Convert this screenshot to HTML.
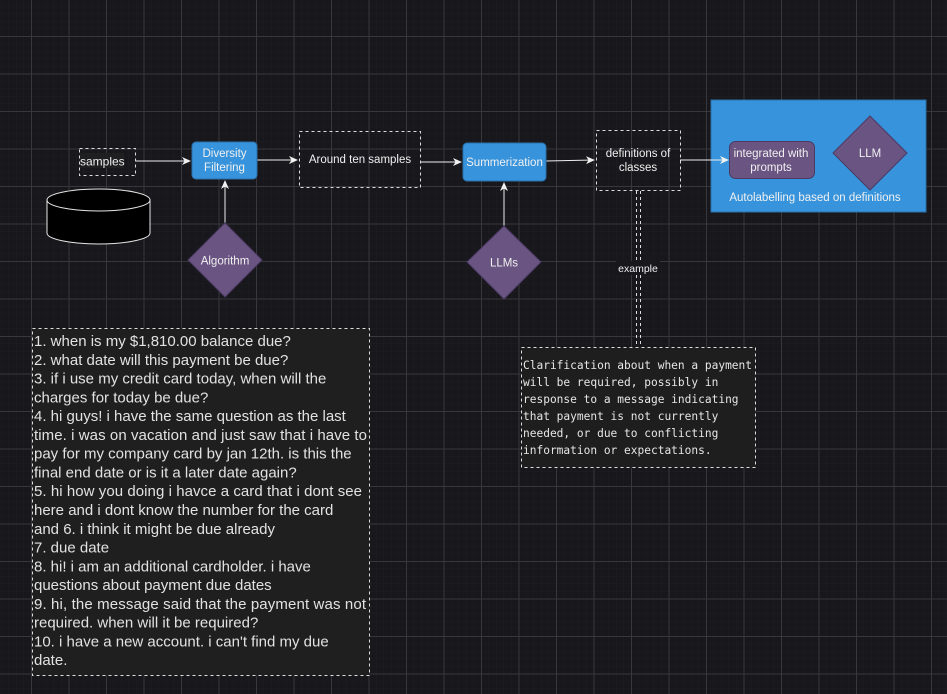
<!DOCTYPE html>
<html><head><meta charset="utf-8"><style>
html,body{margin:0;padding:0;background:#18171c;}
svg{display:block}
.s{font-family:"Liberation Sans",sans-serif;fill:#f0f0f0;}
.m{font-family:"DejaVu Sans Mono","Liberation Mono",monospace;fill:#e6e6e6;font-size:11.2px;}
.t{font-family:"Liberation Sans",sans-serif;fill:#e2e2e2;font-size:15px;}
</style></head><body>
<svg width="947" height="694" xmlns="http://www.w3.org/2000/svg">
<defs>
<pattern id="minor" x="1" y="6" width="7.5" height="7.5" patternUnits="userSpaceOnUse">
<path d="M0 0H7.5M0 0V7.5" stroke="#1e1d23" stroke-width="1" fill="none"/></pattern>
<pattern id="major" x="31" y="36" width="37.5" height="37.5" patternUnits="userSpaceOnUse">
<path d="M0 0.5H37.5M0.5 0V37.5" stroke="#38373d" stroke-width="1" fill="none"/></pattern>
<marker id="a" markerWidth="10" markerHeight="10" refX="8" refY="5" orient="auto" markerUnits="userSpaceOnUse">
<path d="M0 1L9 5L0 9L2.5 5Z" fill="#f0f0f0"/></marker>
</defs>
<rect width="947" height="694" fill="#18171c"/>
<rect width="947" height="694" fill="url(#minor)"/>
<rect width="947" height="694" fill="url(#major)"/>

<rect x="711" y="100" width="215" height="112" fill="#3794dc" stroke="#2b6fa8"/>

<rect x="79.5" y="148.5" width="56" height="27" fill="none" stroke="#ddd" stroke-dasharray="3 3"/>
<rect x="80" y="153" width="44" height="15" fill="#1f1f22"/>
<text x="80" y="165.5" class="s" font-size="12">samples</text>
<path d="M47 200V233A51.5 11 0 0 0 150 233V200" fill="#000" stroke="#e6e6e6"/>
<ellipse cx="98.5" cy="200" rx="51.5" ry="11" fill="#000" stroke="#e6e6e6"/>

<line x1="136" y1="161" x2="190" y2="161" stroke="#eee" marker-end="url(#a)"/>
<line x1="257" y1="160" x2="297" y2="160" stroke="#eee" marker-end="url(#a)"/>
<line x1="421" y1="162" x2="461" y2="162" stroke="#eee" marker-end="url(#a)"/>
<line x1="546" y1="161" x2="594" y2="160" stroke="#eee" marker-end="url(#a)"/>
<line x1="680" y1="160" x2="728" y2="160" stroke="#eee" marker-end="url(#a)"/>
<line x1="225" y1="224" x2="225" y2="181" stroke="#eee" marker-end="url(#a)"/>
<line x1="504" y1="226" x2="504" y2="183" stroke="#eee" marker-end="url(#a)"/>

<rect x="192" y="142" width="65" height="37" rx="4" fill="#3794dc" stroke="#2b6fa8"/>
<text x="224.5" y="157" class="s" font-size="11.5" text-anchor="middle">Diversity</text>
<text x="224.5" y="171" class="s" font-size="11.5" text-anchor="middle">Filtering</text>

<rect x="299.5" y="131.5" width="121" height="56" fill="none" stroke="#ddd" stroke-dasharray="3 3"/>
<text x="360" y="163" class="s" font-size="11.5" text-anchor="middle">Around ten samples</text>

<rect x="463" y="143" width="83" height="38" rx="4" fill="#3794dc" stroke="#2b6fa8"/>
<text x="504.5" y="166" class="s" font-size="11.5" text-anchor="middle">Summerization</text>

<rect x="596.5" y="130.5" width="84" height="60" fill="none" stroke="#ddd" stroke-dasharray="3 3"/>
<text x="638" y="157" class="s" font-size="11.5" text-anchor="middle">definitions of</text>
<text x="638" y="171" class="s" font-size="11.5" text-anchor="middle">classes</text>

<polygon points="225,223 262,260 225,297 188,260" fill="#6a5482" stroke="#4b3a63"/>
<text x="225" y="264.5" class="s" font-size="11.5" text-anchor="middle">Algorithm</text>
<polygon points="504,226 541,262 504,299 467,262" fill="#6a5482" stroke="#4b3a63"/>
<text x="504" y="266.5" class="s" font-size="11.5" text-anchor="middle">LLMs</text>

<rect x="729.5" y="141.5" width="85" height="37" rx="6" fill="#6a5482" stroke="#4b3a63"/>
<text x="771" y="157" class="s" font-size="11.5" text-anchor="middle">integrated with</text>
<text x="771" y="171" class="s" font-size="11.5" text-anchor="middle">prompts</text>
<polygon points="870,116 907,153 870,190 833,153" fill="#6a5482" stroke="#4b3a63"/>
<text x="870" y="157" class="s" font-size="11.5" text-anchor="middle">LLM</text>
<text x="815" y="201" class="s" font-size="11.5" text-anchor="middle">Autolabelling based on definitions</text>

<line x1="636.5" y1="191" x2="636.5" y2="347" stroke="#ddd" stroke-dasharray="3 3"/>
<line x1="640.5" y1="191" x2="640.5" y2="347" stroke="#ddd" stroke-dasharray="3 3"/>
<rect x="616" y="261" width="44" height="14" fill="#18171c"/>
<text x="638" y="272" class="s" font-size="10.5" text-anchor="middle">example</text>

<rect x="521.5" y="347.5" width="234" height="120" fill="#1e1e1e" stroke="#ddd" stroke-dasharray="3 3"/>
<g class="m">
<text x="523" y="369">Clarification about when a payment</text>
<text x="523" y="386">will be required, possibly in</text>
<text x="523" y="403">response to a message indicating</text>
<text x="523" y="420">that payment is not currently</text>
<text x="523" y="437">needed, or due to conflicting</text>
<text x="523" y="454">information or expectations.</text>
</g>

<rect x="32.5" y="328.5" width="337" height="347" fill="#1f1f1f" stroke="#ddd" stroke-dasharray="3 3"/>
<g class="t">
<text x="34" y="346">1. when is my $1,810.00 balance due?</text>
<text x="34" y="364.8">2. what date will this payment be due?</text>
<text x="34" y="383.6">3. if i use my credit card today, when will the</text>
<text x="34" y="402.3">charges for today be due?</text>
<text x="34" y="421.1">4. hi guys! i have the same question as the last</text>
<text x="34" y="439.9" textLength="333" lengthAdjust="spacing">time. i was on vacation and just saw that i have to</text>
<text x="34" y="458.7">pay for my company card by jan 12th. is this the</text>
<text x="34" y="477.4">final end date or is it a later date again?</text>
<text x="34" y="496.2" textLength="328" lengthAdjust="spacing">5. hi how you doing i havce a card that i dont see</text>
<text x="34" y="515">here and i dont know the number for the card</text>
<text x="34" y="533.8">and 6. i think it might be due already</text>
<text x="34" y="552.5">7. due date</text>
<text x="34" y="571.3">8. hi! i am an additional cardholder. i have</text>
<text x="34" y="590.1">questions about payment due dates</text>
<text x="34" y="608.9" textLength="332" lengthAdjust="spacing">9. hi, the message said that the payment was not</text>
<text x="34" y="627.6">required. when will it be required?</text>
<text x="34" y="646.4">10. i have a new account. i can't find my due</text>
<text x="34" y="665.2">date.</text>
</g>
</svg>
</body></html>
